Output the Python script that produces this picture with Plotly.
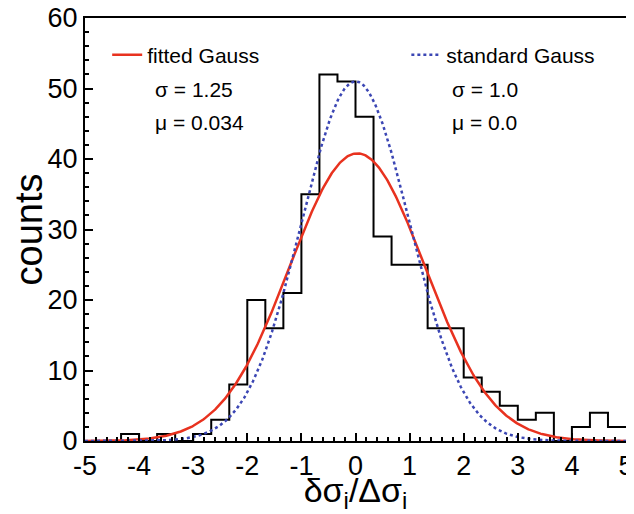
import numpy as np
import plotly.graph_objects as go

# ---- data ----
bin_edges = np.linspace(-5, 5, 31)  # 30 bins of width 1/3
counts = [0, 0, 1, 0, 1, 0, 1, 3, 8, 20,
          16, 21, 35, 52, 51, 46, 29, 25, 25, 16,
          16, 9, 7, 5, 3, 4, 0, 2, 4, 2]

fit_sigma, fit_mu, fit_amp = 1.25, 0.034, 40.8
std_sigma, std_mu, std_amp = 1.0, 0.0, 51.0

x_ticks = [-5, -4, -3, -2, -1, 0, 1, 2, 3, 4, 5]
y_ticks = [0, 10, 20, 30, 40, 50, 60]

FONT = "Liberation Sans, Arial, Helvetica, sans-serif"
RED = "#e8321f"
BLUE = "#3b46b4"

xs = np.linspace(-5, 5, 600)
fit_y = fit_amp * np.exp(-(xs - fit_mu) ** 2 / (2 * fit_sigma ** 2))
std_y = std_amp * np.exp(-(xs - std_mu) ** 2 / (2 * std_sigma ** 2))

hx = list(bin_edges)
hy = list(counts) + [counts[-1]]

fig = go.Figure()
fig.add_trace(go.Scatter(x=hx, y=hy, mode="lines", line=dict(shape="hv", color="black", width=2),
                         showlegend=False, hoverinfo="skip"))
fig.add_trace(go.Scatter(x=xs, y=fit_y, mode="lines", line=dict(color=RED, width=2.5),
                         name="fitted Gauss", legend="legend"))
fig.add_trace(go.Scatter(x=xs, y=std_y, mode="lines", line=dict(color=BLUE, width=2.5, dash="dot"),
                         name="standard Gauss", legend="legend2"))

ann_font = dict(family=FONT, size=21, color="black")
fig.add_annotation(x=0.125, y=0.830, xref="paper", yref="paper", xanchor="left", yanchor="middle",
                   text=f"σ = {fit_sigma}", showarrow=False, font=ann_font)
fig.add_annotation(x=0.125, y=0.752, xref="paper", yref="paper", xanchor="left", yanchor="middle",
                   text=f"μ = {fit_mu}", showarrow=False, font=ann_font)
fig.add_annotation(x=0.6745, y=0.830, xref="paper", yref="paper", xanchor="left", yanchor="middle",
                   text=f"σ = {std_sigma}", showarrow=False, font=ann_font)
fig.add_annotation(x=0.6745, y=0.752, xref="paper", yref="paper", xanchor="left", yanchor="middle",
                   text=f"μ = {std_mu}", showarrow=False, font=ann_font)

axis_common = dict(showline=True, linecolor="black", linewidth=2, mirror=True,
                   ticks="inside", tickcolor="black", tickwidth=1.5, ticklen=8,
                   showgrid=False, zeroline=False, automargin=False,
                   ticklabeloverflow="allow",
                   tickfont=dict(family=FONT, size=27, color="black"))

# the page body adds an 8px offset, so the figure is sized/margined to compensate
fig.update_layout(
    width=626, height=506,
    margin=dict(l=77, r=8, t=10, b=73),
    paper_bgcolor="white", plot_bgcolor="white",
    xaxis=dict(range=[-5, 5], tickvals=x_ticks, ticktext=[str(v) for v in x_ticks],
               minor=dict(dtick=0.2, ticks="inside", ticklen=4, tickcolor="black", tickwidth=1.5),
               title=dict(text="δσ<sub>i</sub>/Δσ<sub>i</sub>", font=dict(family=FONT, size=34, color="black"),
                          standoff=4),
               ticklabelstandoff=0,
               **axis_common),
    yaxis=dict(range=[0, 60], tickvals=y_ticks,
               minor=dict(dtick=2, ticks="inside", ticklen=4, tickcolor="black", tickwidth=1.5),
               title=dict(text="counts", font=dict(family=FONT, size=38, color="black"), standoff=0),
               ticklabelstandoff=0,
               **axis_common),
    legend=dict(x=0.041, y=0.9125, xanchor="left", yanchor="middle", bgcolor="rgba(0,0,0,0)",
                font=dict(family=FONT, size=21, color="black"), borderwidth=0),
    legend2=dict(x=0.594, y=0.9125, xanchor="left", yanchor="middle", bgcolor="rgba(0,0,0,0)",
                 font=dict(family=FONT, size=21, color="black"), borderwidth=0),
)

fig.write_html("out.html")
